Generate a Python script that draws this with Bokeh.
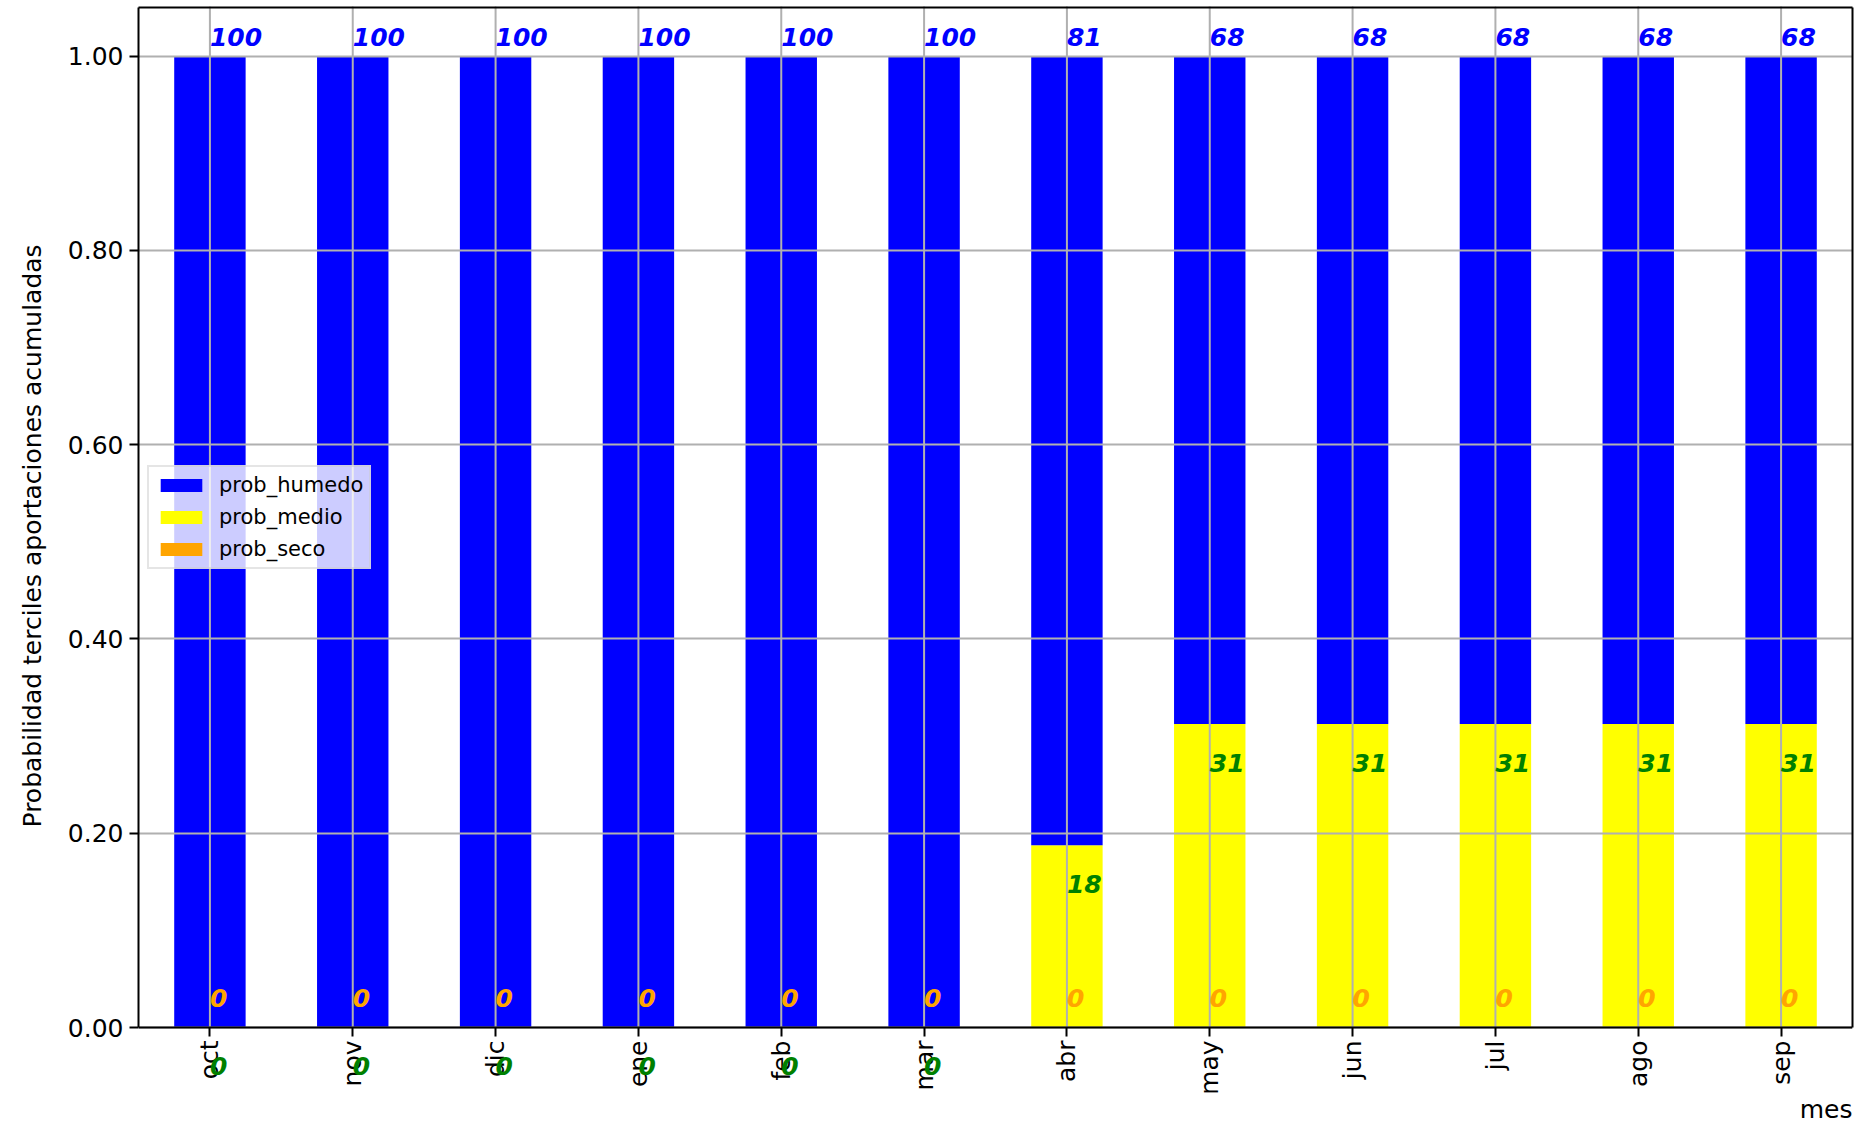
import math
from bokeh.plotting import figure
from bokeh.models import (FactorRange, Range1d, FixedTicker, NumeralTickFormatter,
                          ColumnDataSource, LabelSet, Legend, LegendItem, Title,
                          LinearAxis, CategoricalAxis)
from bokeh.core.properties import value
from bokeh.embed import file_html
from bokeh.resources import INLINE

months = ["oct", "nov", "dic", "ene", "feb", "mar", "abr", "may", "jun", "jul", "ago", "sep"]
prob_humedo = [1.0, 1.0, 1.0, 1.0, 1.0, 1.0, 0.8125, 0.6875, 0.6875, 0.6875, 0.6875, 0.6875]
prob_medio = [0.0, 0.0, 0.0, 0.0, 0.0, 0.0, 0.1875, 0.3125, 0.3125, 0.3125, 0.3125, 0.3125]
prob_seco = [0.0, 0.0, 0.0, 0.0, 0.0, 0.0, 0.0, 0.0, 0.0, 0.0, 0.0, 0.0]
y_ticks = [0.0, 0.2, 0.4, 0.6, 0.8, 1.0]
y_label = "Probabilidad terciles aportaciones acumuladas"

FONT = "DejaVu Sans"
GRID = "#b0b0b0"
W, H = 1854, 1124
BL, BR, BT, BB = 134, 2, 7, 32
FH = H - BT - BB            # frame height in px
AX_PX = 1020                # px from frame top to the y=0 axis line
Y1 = 1.05
Y0 = -Y1 * (FH - AX_PX) / AX_PX   # frame extends below 0 so labels there are visible
YLABEL_LEN = 620            # approx. rendered length of the y label, px

src = ColumnDataSource(dict(mes=months, prob_humedo=prob_humedo,
                            prob_medio=prob_medio, prob_seco=prob_seco))

p = figure(x_range=FactorRange(*months), y_range=Range1d(Y0, Y1),
           width=W, height=H, output_backend="svg", toolbar_location=None,
           min_border_left=BL, min_border_right=BR, min_border_top=BT, min_border_bottom=BB)

rs = p.vbar_stack(["prob_seco", "prob_medio", "prob_humedo"], x="mes", width=0.5,
                  fill_color=["orange", "yellow", "blue"], line_color=None, source=src)

# grid lines drawn above the bars, limited to the axes area (0 .. top)
p.segment(x0=months, y0=[0] * len(months), x1=months, y1=[Y1] * len(months),
          line_color=GRID, line_width=2)
p.hspan(y=y_ticks, line_color=GRID, line_width=2)

# value labels
lab = dict(mes=[], y=[], t=[], c=[])
for i, m in enumerate(months):
    s, md, h = prob_seco[i], prob_medio[i], prob_humedo[i]
    lab["mes"] += [m, m, m]
    lab["y"] += [s + md + h + 0.02, s + md - 0.04, s + 0.03]
    lab["t"] += [str(int(h * 100)), str(int(md * 100)), str(int(s * 100))]
    lab["c"] += ["blue", "green", "orange"]
lsrc = ColumnDataSource(lab)
p.add_layout(LabelSet(x="mes", y="y", text="t", source=lsrc, text_color="c",
                      text_font=value(FONT), text_font_style="bold italic",
                      text_font_size="25px", text_align="left", text_baseline="middle"))

# axes
p.grid.visible = False
p.outline_line_color = None
p.yaxis.ticker = FixedTicker(ticks=y_ticks, minor_ticks=[])
p.yaxis.formatter = NumeralTickFormatter(format="0.00")
p.yaxis.bounds = (0, Y1)
p.xaxis.fixed_location = 0
for ax in (p.xaxis[0], p.yaxis[0]):
    ax.major_label_text_font = FONT
    ax.major_label_text_font_size = "25px"
    ax.major_label_text_color = "black"
    ax.axis_line_color = "black"
    ax.axis_line_width = 2
    ax.major_tick_line_color = "black"
    ax.major_tick_line_width = 2
    ax.major_tick_out = 9
    ax.major_tick_in = 0
    ax.minor_tick_line_color = None
p.yaxis.major_label_standoff = 6
p.xaxis.major_label_orientation = math.pi / 2
p.xaxis.major_label_standoff = 4

# y label as a side title, centred on the 0..top part of the axis
p.add_layout(Title(text=y_label, align="left",
                   offset=(FH - AX_PX) + (AX_PX - YLABEL_LEN) / 2,
                   vertical_align="middle", standoff=33,
                   text_font=FONT, text_font_size="25px", text_font_style="normal",
                   text_color="black"), "left")

# top and right spines
right = LinearAxis(bounds=(0, Y1), ticker=FixedTicker(ticks=[]), axis_line_width=2,
                   axis_line_color="black", major_tick_out=0, major_tick_in=0,
                   minor_tick_out=0, minor_tick_in=0)
p.add_layout(right, "right")
top = CategoricalAxis(axis_line_width=2, axis_line_color="black",
                      major_tick_out=0, major_tick_in=0, major_tick_line_color=None,
                      major_label_standoff=0, major_label_text_font_size="1px",
                      major_label_overrides={m: "" for m in months})
p.add_layout(top, "above")

p.add_layout(Title(text="mes", align="right", text_font=FONT, text_font_size="25px",
                   text_font_style="normal", text_color="black", standoff=0,
                   offset=0), "below")

p.background_fill_color = "white"
p.border_fill_color = "white"

legend = Legend(items=[LegendItem(label="prob_humedo", renderers=[rs[2]]),
                       LegendItem(label="prob_medio", renderers=[rs[1]]),
                       LegendItem(label="prob_seco", renderers=[rs[0]])],
                location=(9, 458 + (FH - AX_PX)), label_text_font=FONT,
                label_text_font_size="21px",
                label_text_color="black", glyph_width=52, glyph_height=16,
                label_height=20, spacing=8, padding=6, label_standoff=12,
                background_fill_color="white", background_fill_alpha=0.8,
                border_line_color="#cccccc", border_line_width=2, margin=0)
p.add_layout(legend, "center")

open("out.html", "w").write(file_html(p, INLINE))
